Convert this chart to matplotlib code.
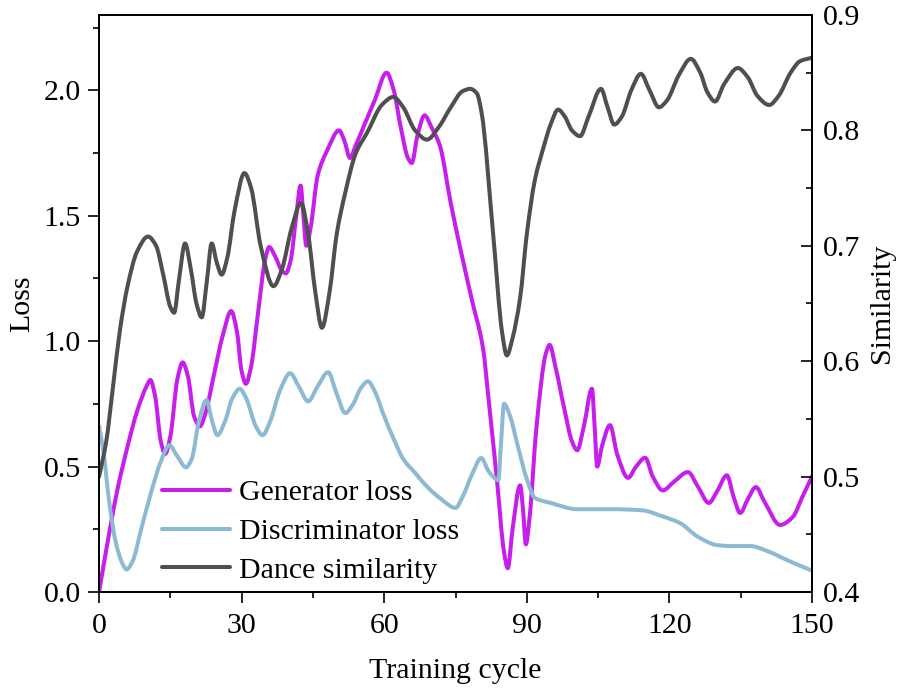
import numpy as np
import matplotlib
matplotlib.use('Agg')
import matplotlib.pyplot as plt
from matplotlib.path import Path
from matplotlib.patches import PathPatch
from matplotlib.lines import Line2D
from matplotlib.ticker import MultipleLocator, FormatStrFormatter

plt.rcParams['font.family'] = ['Liberation Serif', 'DejaVu Serif']
plt.rcParams['font.size'] = 21.5

# Generator loss (left axis)
gen_x = [0, 2, 4, 6, 8, 10, 10.8, 11.8, 13, 13.9, 15, 16.5, 17.6, 18.7, 20, 21.2,
         22.5, 24, 26, 27.8, 29, 30, 30.9, 32, 33.5, 35, 35.8, 37, 38.5, 39.3, 40.3,
         41.5, 42.4, 43, 43.6, 44.5, 46, 48, 50.5, 51.6, 52.8, 54, 56, 58, 60.5, 62,
         63.5, 65, 65.8, 67, 68.5, 70, 71.7, 74, 76, 78.5, 80.8, 82, 83.7, 85.2, 86,
         87, 88.6, 89.2, 89.8, 90.6, 92, 94, 94.8, 96, 98, 99.5, 100.6, 102, 103.7,
         104.3, 104.8, 105.8, 107.5, 109, 111.3, 113, 114.9, 116.5, 118.6, 121, 123.9,
         126, 128.3, 130, 132.1, 133.5, 134.9, 136.5, 138.2, 140, 143.3, 146, 148, 150]
gen_loss = [0.0, 0.22, 0.42, 0.58, 0.72, 0.82, 0.845, 0.78, 0.6, 0.55, 0.62, 0.85, 0.915,
            0.86, 0.7, 0.66, 0.72, 0.85, 1.02, 1.12, 1.04, 0.88, 0.83, 0.9, 1.12, 1.33,
            1.375, 1.34, 1.28, 1.27, 1.32, 1.5, 1.62, 1.5, 1.38, 1.45, 1.66, 1.76, 1.84,
            1.80, 1.73, 1.78, 1.87, 1.96, 2.07, 2.0, 1.85, 1.73, 1.71, 1.82, 1.90, 1.85,
            1.78, 1.55, 1.37, 1.16, 0.97, 0.76, 0.45, 0.16, 0.095, 0.25, 0.425, 0.33,
            0.19, 0.3, 0.65, 0.95, 0.985, 0.9, 0.72, 0.6, 0.565, 0.66, 0.81, 0.65, 0.5,
            0.58, 0.665, 0.55, 0.455, 0.5, 0.535, 0.46, 0.405, 0.44, 0.478, 0.42, 0.355,
            0.4, 0.465, 0.38, 0.315, 0.37, 0.418, 0.36, 0.267, 0.3, 0.38, 0.46]

# Discriminator loss (left axis)
dis_x = [0, 1, 2, 3.5, 5, 5.8, 7, 9, 11, 13, 14.8, 16.5, 18.3, 19.5, 21, 22.6, 23.8,
         24.9, 26.5, 28, 29.6, 31, 33, 34.4, 36, 38, 40.2, 42, 44, 46, 48.2, 50, 51.8,
         53.5, 55, 56.6, 58, 60, 62, 64, 66.5, 69, 72, 75, 76.5, 78.5, 80.4, 82, 84,
         84.6, 85.2, 86.5, 88, 90, 91.7, 95, 100.6, 108, 114.5, 118, 122.2, 126, 130,
         133, 137, 141, 145, 150]
dis_loss = [0.66, 0.55, 0.38, 0.2, 0.11, 0.09, 0.12, 0.26, 0.4, 0.52, 0.585, 0.54,
            0.497, 0.53, 0.68, 0.765, 0.68, 0.625, 0.68, 0.77, 0.81, 0.77, 0.66, 0.625,
            0.68, 0.8, 0.872, 0.82, 0.76, 0.82, 0.876, 0.79, 0.713, 0.75, 0.81, 0.84,
            0.8, 0.7, 0.61, 0.53, 0.475, 0.42, 0.37, 0.335, 0.38, 0.47, 0.534, 0.48,
            0.446, 0.6, 0.75, 0.7, 0.59, 0.45, 0.375, 0.355, 0.33, 0.33, 0.325, 0.305,
            0.275, 0.22, 0.187, 0.183, 0.183, 0.16, 0.125, 0.085]

# Dance similarity (right axis)
sim_x = [0, 1.5, 3, 4.4, 6, 8, 10.3, 12, 13.5, 15, 15.8, 16.8, 18.1, 19.3, 20.5, 21.6,
         22.7, 23.7, 24.8, 25.8, 27, 28.5, 30.6, 32, 34, 36.7, 38.5, 40.5, 42.5, 44,
         45.5, 46.9, 48.5, 50, 51.8, 54, 56.4, 59.5, 61.9, 64, 66.5, 69, 71.5, 74, 76.5,
         78.1, 79.5, 80.5, 82.9, 84.8, 85.8, 87, 88.6, 90, 91.7, 93.5, 95, 96.6, 98,
         99.5, 101.2, 103, 105.6, 107, 108.4, 110, 112, 114, 115.8, 117.8, 119.5, 122,
         124.5, 126.5, 128, 129.6, 131.5, 134.4, 136.5, 138.5, 141, 143, 145.5, 147.5, 150]
similarity = [0.5, 0.53, 0.58, 0.627, 0.665, 0.695, 0.708, 0.7, 0.675, 0.647, 0.642,
              0.67, 0.702, 0.68, 0.65, 0.638, 0.67, 0.702, 0.685, 0.675, 0.69, 0.73,
              0.763, 0.75, 0.7, 0.665, 0.68, 0.715, 0.737, 0.71, 0.66, 0.629, 0.66, 0.71,
              0.746, 0.78, 0.798, 0.822, 0.829, 0.82, 0.8, 0.792, 0.803, 0.82, 0.834,
              0.836, 0.832, 0.815, 0.711, 0.625, 0.605, 0.62, 0.655, 0.71, 0.757, 0.785,
              0.805, 0.818, 0.812, 0.8, 0.795, 0.812, 0.836, 0.82, 0.805, 0.812, 0.835,
              0.849, 0.835, 0.82, 0.826, 0.848, 0.862, 0.85, 0.833, 0.825, 0.84, 0.854,
              0.846, 0.83, 0.822, 0.83, 0.85, 0.86, 0.863]


def smooth_path(x, y):
    # monotone cubic (PCHIP-like) segments drawn as Bezier curves,
    # passing through every read point (mimics Origin's smoothed line)
    x = np.asarray(x, float)
    y = np.asarray(y, float)
    h = np.diff(x)
    d = np.diff(y) / h
    m = np.zeros_like(y)
    m[0], m[-1] = d[0], d[-1]
    for i in range(1, len(y) - 1):
        if d[i - 1] * d[i] > 0:
            w1 = 2 * h[i] + h[i - 1]
            w2 = h[i] + 2 * h[i - 1]
            m[i] = (w1 + w2) / (w1 / d[i - 1] + w2 / d[i])
    verts = [(x[0], y[0])]
    codes = [Path.MOVETO]
    for i in range(len(x) - 1):
        verts += [(x[i] + h[i] / 3, y[i] + m[i] * h[i] / 3),
                  (x[i + 1] - h[i] / 3, y[i + 1] - m[i + 1] * h[i] / 3),
                  (x[i + 1], y[i + 1])]
        codes += [Path.CURVE4] * 3
    return Path(verts, codes)


GEN_C = '#C61EEB'
DIS_C = '#8DBAD3'
SIM_C = '#4F4F4F'
LW = 2.9

fig = plt.figure(figsize=(9.02, 6.91), dpi=100)
ax = fig.add_axes([0.1098, 0.1433, 0.7904, 0.835])
ax2 = ax.twinx()

ax.add_patch(PathPatch(smooth_path(gen_x, gen_loss), fill=False, ec=GEN_C, lw=LW,
                       capstyle='round', joinstyle='round'))
ax.add_patch(PathPatch(smooth_path(dis_x, dis_loss), fill=False, ec=DIS_C, lw=LW,
                       capstyle='round', joinstyle='round'))
ax2.add_patch(PathPatch(smooth_path(sim_x, similarity), fill=False, ec=SIM_C, lw=LW,
                        capstyle='round', joinstyle='round'))

ax.set_xlim(0, 150)
ax.set_ylim(0, 2.3)
ax2.set_ylim(0.4, 0.9)

ax.xaxis.set_major_locator(MultipleLocator(30))
ax.xaxis.set_minor_locator(MultipleLocator(15))
ax.yaxis.set_major_locator(MultipleLocator(0.5))
ax.yaxis.set_minor_locator(MultipleLocator(0.25))
ax2.yaxis.set_major_locator(MultipleLocator(0.1))
ax2.yaxis.set_minor_locator(MultipleLocator(0.05))
ax.xaxis.set_major_formatter(FormatStrFormatter('%d'))
ax.yaxis.set_major_formatter(FormatStrFormatter('%.1f'))
ax2.yaxis.set_major_formatter(FormatStrFormatter('%.1f'))

ax.tick_params(axis='both', which='major', direction='out', length=8, width=1.2, pad=5)
ax.tick_params(axis='both', which='minor', direction='out', length=4.5, width=1.2)
ax.tick_params(axis='x', which='major', pad=7)
ax.tick_params(top=False, which='both')
ax2.tick_params(axis='y', which='major', direction='in', length=8, width=1.2, pad=8)
ax2.tick_params(axis='y', which='minor', direction='in', length=4.5, width=1.2)

for a in (ax, ax2):
    for s in a.spines.values():
        s.set_linewidth(1.3)

ax.set_xlabel('Training cycle', labelpad=14)
ax.set_ylabel('Loss', labelpad=6)
ax2.set_ylabel('Similarity', labelpad=6)

handles = [Line2D([], [], color=GEN_C, lw=LW, solid_capstyle='round', label='Generator loss'),
           Line2D([], [], color=DIS_C, lw=LW, solid_capstyle='round', label='Discriminator loss'),
           Line2D([], [], color=SIM_C, lw=LW, solid_capstyle='round', label='Dance similarity')]
ax.legend(handles=handles, loc='lower left', bbox_to_anchor=(0.088, 0.014),
          frameon=False, borderpad=0, borderaxespad=0, handlelength=2.3,
          handletextpad=0.3, labelspacing=0.4, fontsize=21.5)

fig.savefig('out.png', dpi=100)
